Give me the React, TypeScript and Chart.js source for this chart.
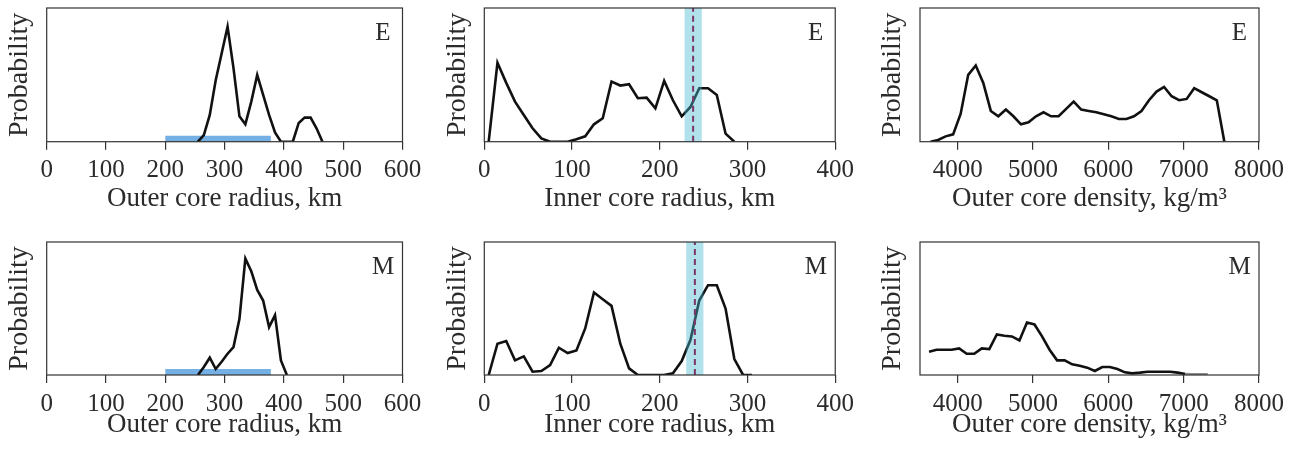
import React, { useEffect, useRef } from 'react';
import { Chart, registerables } from 'chart.js';

Chart.register(...registerables);

// ---------- tick labels ----------
const OUTER_RADIUS_TICKS = [0, 100, 200, 300, 400, 500, 600];
const INNER_RADIUS_TICKS = [0, 100, 200, 300, 400];
const DENSITY_TICKS = [4000, 5000, 6000, 7000, 8000];

// ---------- E: outer core radius ----------
const E_OUTER_RADIUS = [255, 265, 275, 285, 295, 305, 315, 325, 335, 345, 355, 365, 375, 385, 395, 405, 415, 425, 435, 445, 455, 465];
const E_OUTER_PROB = [0, 0.05, 0.2, 0.46, 0.66, 0.86, 0.55, 0.19, 0.13, 0.3, 0.5, 0.35, 0.2, 0.07, 0, 0, 0, 0.14, 0.18, 0.18, 0.1, 0];

// ---------- M: outer core radius ----------
const M_OUTER_RADIUS = [255, 265, 275, 285, 295, 305, 315, 325, 335, 345, 355, 365, 375, 385, 395, 405];
const M_OUTER_PROB = [0, 0.06, 0.13, 0.045, 0.1, 0.16, 0.21, 0.42, 0.875, 0.78, 0.64, 0.56, 0.36, 0.45, 0.11, 0];

// prior range of outer core radius (blue bar)
const OUTER_RANGE = [200, 378];

// ---------- E: inner core radius ----------
const E_INNER_RADIUS = [5, 15, 25, 35, 45, 55, 65, 75, 85, 95, 105, 115, 125, 135, 145, 155, 165, 175, 185, 195, 205, 215, 225, 235, 245, 255, 265, 275, 285];
const E_INNER_PROB = [0, 0.59, 0.44, 0.3, 0.2, 0.1, 0.025, 0, 0, 0, 0.018, 0.04, 0.13, 0.175, 0.45, 0.42, 0.43, 0.325, 0.33, 0.25, 0.455, 0.31, 0.19, 0.26, 0.4, 0.4, 0.35, 0.06, 0];
const E_INNER_BAND = [228, 248];
const E_INNER_MARK = 238;

// ---------- M: inner core radius ----------
const M_INNER_RADIUS = [5, 15, 25, 35, 45, 55, 65, 75, 85, 95, 105, 115, 125, 135, 145, 155, 165, 175, 185, 195, 205, 215, 225, 235, 245, 255, 265, 275, 285, 295, 305];
const M_INNER_PROB = [0, 0.235, 0.255, 0.11, 0.14, 0.025, 0.03, 0.075, 0.205, 0.165, 0.185, 0.35, 0.62, 0.57, 0.52, 0.235, 0.05, 0, 0, 0, 0, 0.013, 0.105, 0.265, 0.56, 0.675, 0.675, 0.5, 0.12, 0, 0];
const M_INNER_BAND = [230, 250];
const M_INNER_MARK = 240;

// ---------- E: outer core density ----------
const E_DENSITY = [3640, 3740, 3840, 3940, 4040, 4140, 4240, 4340, 4440, 4540, 4640, 4740, 4840, 4940, 5040, 5140, 5240, 5340, 5440, 5540, 5640, 5740, 5840, 5940, 6040, 6140, 6240, 6340, 6440, 6540, 6640, 6740, 6840, 6940, 7040, 7140, 7240, 7340, 7440, 7540];
const E_DENSITY_PROB = [0, 0.0125, 0.04, 0.055, 0.21, 0.5, 0.57, 0.44, 0.23, 0.19, 0.24, 0.19, 0.13, 0.145, 0.19, 0.22, 0.19, 0.19, 0.245, 0.3, 0.24, 0.23, 0.22, 0.205, 0.19, 0.17, 0.17, 0.19, 0.23, 0.31, 0.375, 0.41, 0.34, 0.31, 0.32, 0.4, 0.37, 0.34, 0.31, 0];

// ---------- M: outer core density ----------
const M_DENSITY = [3620, 3720, 3820, 3920, 4020, 4120, 4220, 4320, 4420, 4520, 4620, 4720, 4820, 4920, 5020, 5120, 5220, 5320, 5420, 5520, 5620, 5720, 5820, 5920, 6020, 6120, 6220, 6320, 6420, 6520, 6620, 6720, 6820, 6920, 7020, 7120, 7220, 7320];
const M_DENSITY_PROB = [0.175, 0.19, 0.19, 0.19, 0.2, 0.16, 0.16, 0.2, 0.195, 0.305, 0.295, 0.29, 0.26, 0.395, 0.38, 0.29, 0.19, 0.11, 0.11, 0.08, 0.07, 0.055, 0.03, 0.06, 0.06, 0.045, 0.02, 0.0125, 0.018, 0.025, 0.025, 0.025, 0.025, 0.018, 0.008, 0.005, 0.005, 0.005];

// ---------- styles ----------
const SERIF = '"Liberation Serif", "Times New Roman", serif';
const TEXT = '#2b2b2b';
const FRAME = '#333333';
const CURVE = '#111111';
const BAR_BLUE = '#74b0e4';
const BAND = 'rgba(70, 184, 206, 0.42)';
const MARK = '#7d3466';
const TICK_SIZE = 25;
const TITLE_SIZE = 27;
const YTITLE_SIZE = 28;

const pts = (xs: number[], ys: number[]) => xs.map((x, i) => ({ x, y: ys[i] }));

const curve = (xs: number[], ys: number[], extra: any = {}) => ({
  data: pts(xs, ys),
  borderColor: CURVE,
  borderWidth: 2.6,
  pointRadius: 0,
  tension: 0,
  fill: false,
  order: 2,
  ...extra,
});

const rangeBar = (r: number[]) => ({
  data: [{ x: r[0], y: 0.0225 }, { x: r[1], y: 0.0225 }],
  borderColor: BAR_BLUE,
  borderWidth: 6,
  borderCapStyle: 'butt',
  pointRadius: 0,
  fill: false,
  order: 3,
});

const band = (r: number[]) => ({
  data: [{ x: r[0], y: 1 }, { x: r[1], y: 1 }],
  borderWidth: 0,
  borderColor: 'rgba(0,0,0,0)',
  backgroundColor: BAND,
  pointRadius: 0,
  fill: 'origin',
  order: 1,
});

const mark = (v: number) => ({
  data: [{ x: v, y: 0 }, { x: v, y: 1 }],
  borderColor: MARK,
  borderWidth: 2,
  borderDash: [6, 4],
  pointRadius: 0,
  fill: false,
  order: 0,
});

type PanelCfg = {
  left: number; top: number; width: number; height: number;
  cl: number; cr: number; ct: number; cb: number;
  xMin: number; xMax: number; ticks: number[];
  title: string; letter: string; titlePad: number;
  datasets: any[];
};

const COL = [
  { left: 0, width: 430, cl: 46.7, cr: 402.5 },
  { left: 430, width: 430, cl: 54.3, cr: 409 },
  { left: 860, width: 438, cl: 60, cr: 399 },
];
const ROW = [
  { top: 0, height: 225, ct: 8, cb: 141.7, titlePad: 9.8 },
  { top: 225, height: 224, ct: 17, cb: 150, titlePad: 7.8 },
];

const mk = (c: number, r: number, rest: any): PanelCfg => ({ ...COL[c], ...ROW[r], ...rest });

const PANELS: PanelCfg[] = [
  mk(0, 0, { xMin: 0, xMax: 600, ticks: OUTER_RADIUS_TICKS, title: 'Outer core radius, km', letter: 'E',
    datasets: [curve(E_OUTER_RADIUS, E_OUTER_PROB, { order: 0 }), rangeBar(OUTER_RANGE)] }),
  mk(1, 0, { xMin: 0, xMax: 400, ticks: INNER_RADIUS_TICKS, title: 'Inner core radius, km', letter: 'E',
    datasets: [curve(E_INNER_RADIUS, E_INNER_PROB), band(E_INNER_BAND), mark(E_INNER_MARK)] }),
  mk(2, 0, { xMin: 3500, xMax: 8000, ticks: DENSITY_TICKS, title: 'Outer core density, kg/m\u00B3', letter: 'E',
    datasets: [curve(E_DENSITY, E_DENSITY_PROB)] }),
  mk(0, 1, { xMin: 0, xMax: 600, ticks: OUTER_RADIUS_TICKS, title: 'Outer core radius, km', letter: 'M',
    datasets: [curve(M_OUTER_RADIUS, M_OUTER_PROB, { order: 0 }), rangeBar(OUTER_RANGE)] }),
  mk(1, 1, { xMin: 0, xMax: 400, ticks: INNER_RADIUS_TICKS, title: 'Inner core radius, km', letter: 'M',
    datasets: [curve(M_INNER_RADIUS, M_INNER_PROB), band(M_INNER_BAND), mark(M_INNER_MARK)] }),
  mk(2, 1, { xMin: 3500, xMax: 8000, ticks: DENSITY_TICKS, title: 'Outer core density, kg/m\u00B3', letter: 'M',
    datasets: [curve(M_DENSITY, M_DENSITY_PROB, {
      segment: { borderColor: (ctx: any) => (ctx.p0.parsed.x >= 7000 ? '#8c8c8c' : undefined) },
    })] }),
];

function Panel({ cfg }: { cfg: PanelCfg }) {
  const ref = useRef<HTMLCanvasElement>(null);
  useEffect(() => {
    const canvas = ref.current;
    if (!canvas) return;
    const framePlugin = {
      id: 'frameAndLetter',
      afterDatasetsDraw(chart: any) {
        const { ctx, chartArea: a } = chart;
        ctx.save();
        ctx.strokeStyle = FRAME;
        ctx.lineWidth = 1.2;
        ctx.strokeRect(a.left, a.top, a.right - a.left, a.bottom - a.top);
        ctx.font = `25px ${SERIF}`;
        ctx.fillStyle = TEXT;
        ctx.textAlign = 'center';
        ctx.textBaseline = 'middle';
        ctx.fillText(cfg.letter, a.right - 19.5, a.top + 25);
        ctx.restore();
      },
    };
    const chart = new Chart(canvas, {
      type: 'line',
      data: { datasets: cfg.datasets },
      options: {
        animation: false,
        responsive: false,
        events: [],
        layout: { padding: { left: 0, top: cfg.ct, right: cfg.width - cfg.cr, bottom: 0 } },
        plugins: { legend: { display: false }, tooltip: { enabled: false } },
        scales: {
          x: {
            type: 'linear',
            min: cfg.xMin,
            max: cfg.xMax,
            afterBuildTicks: (s: any) => { s.ticks = cfg.ticks.map((v) => ({ value: v })); },
            afterFit: (s: any) => { s.height = cfg.height - cfg.cb; },
            ticks: {
              font: { family: SERIF, size: TICK_SIZE },
              color: TEXT,
              padding: 6,
              maxRotation: 0,
              autoSkip: false,
              callback: (v: any) => String(v),
            },
            grid: { display: true, drawOnChartArea: false, drawTicks: true, tickLength: 8, color: FRAME, lineWidth: 1.2 },
            border: { display: false },
            title: {
              display: true,
              text: cfg.title,
              font: { family: SERIF, size: TITLE_SIZE },
              color: TEXT,
              padding: { top: 0, bottom: cfg.titlePad },
            },
          },
          y: {
            min: 0,
            max: 1,
            ticks: { display: false },
            grid: { display: false },
            border: { display: false },
            afterFit: (s: any) => { s.width = cfg.cl; },
            title: {
              display: true,
              text: 'Probability',
              font: { family: SERIF, size: YTITLE_SIZE },
              color: TEXT,
              padding: { top: cfg.cl - 27 - (YTITLE_SIZE * 1.2) / 2, bottom: 0 },
            },
          },
        },
      } as any,
      plugins: [framePlugin],
    });
    return () => chart.destroy();
  }, [cfg]);
  return (
    <canvas
      ref={ref}
      width={cfg.width}
      height={cfg.height}
      style={{ position: 'absolute', left: cfg.left, top: cfg.top, width: cfg.width, height: cfg.height, display: 'block' }}
    />
  );
}

export default function App() {
  return (
    <div style={{ position: 'absolute', left: 0, top: 0, width: 1298, height: 449, background: '#ffffff', overflow: 'hidden' }}>
      {PANELS.map((p, i) => (
        <Panel key={i} cfg={p} />
      ))}
    </div>
  );
}
